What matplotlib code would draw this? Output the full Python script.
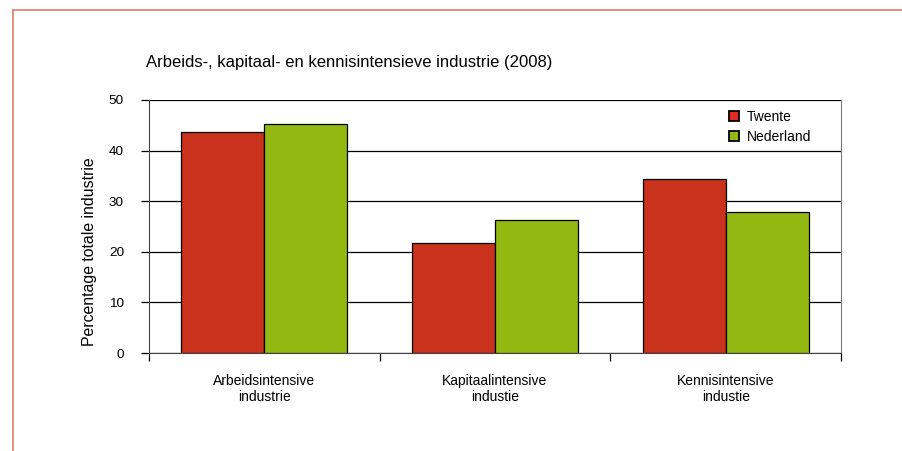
import matplotlib
matplotlib.use('Agg')
import matplotlib.pyplot as plt
import numpy as np
from matplotlib.lines import Line2D
from matplotlib.patches import Rectangle

categories = ["Arbeidsintensive\nindustrie", "Kapitaalintensive\nindustie", "Kennisintensive\nindustie"]
twente = [43.6, 21.7, 34.3]
nederland = [45.3, 26.3, 27.8]
series_names = ["Twente", "Nederland"]

plt.rcParams['font.family'] = ['Liberation Sans', 'DejaVu Sans']

fig = plt.figure(figsize=(9.03, 4.51), dpi=100)
ax = fig.add_axes([149/903, 98/451, 692/903, 253/451])

# page border (top and left)
fig.add_artist(Line2D([13/903, 1], [1 - 10/451, 1 - 10/451], color="#e07a68", lw=1.2, transform=fig.transFigure))
fig.add_artist(Line2D([13/903, 13/903], [0, 1 - 10/451], color="#e07a68", lw=1.2, transform=fig.transFigure))

xs = np.arange(len(categories))
width = 0.36
ax.bar(xs - width/2, twente, width, color="#c9321c", edgecolor="black", linewidth=0.9, zorder=3)
ax.bar(xs + width/2, nederland, width, color="#93b812", edgecolor="black", linewidth=0.9, zorder=3)

ax.set_xlim(-0.5, 2.5)
ax.set_ylim(0, 50)
ax.set_yticks([0, 10, 20, 30, 40, 50])
ax.yaxis.grid(True, color="black", linewidth=0.9, zorder=0)
ax.set_axisbelow(True)
ax.tick_params(axis="y", length=6, width=0.9, color="black", labelsize=9.7, pad=12)

ax.set_xticks(np.arange(-0.5, 3.0, 1.0))
ax.set_xticklabels([])
ax.set_xticks(xs, minor=True)
ax.set_xticklabels(categories, minor=True, fontsize=10, linespacing=1.2)
ax.tick_params(axis="x", which="major", length=6, width=0.9, direction="out")
ax.tick_params(axis="x", which="minor", length=0, pad=15)

ax.spines["top"].set_visible(False)
ax.spines["left"].set_color("#444444")
ax.spines["right"].set_color("#777777")
ax.spines["bottom"].set_color("#444444")

fig.text(90/903, 1 - 252/451, "Percentage totale industrie", fontsize=11.4,
         rotation=90, ha="center", va="center")
fig.text(146/903, 1 - 63/451, "Arbeids-, kapitaal- en kennisintensieve industrie (2008)",
         fontsize=12, ha="left", va="center")

handles = [Rectangle((0, 0), 1, 1, facecolor="#e12a22", edgecolor="black", linewidth=1.3),
           Rectangle((0, 0), 1, 1, facecolor="#93b812", edgecolor="black", linewidth=1.3)]
ax.legend(handles, series_names, loc="upper left", bbox_to_anchor=(0.82, 1.011), frameon=False,
          fontsize=10, handlelength=0.75, handleheight=0.75, handletextpad=0.55, labelspacing=0.42)

fig.savefig("out.png", dpi=100)
